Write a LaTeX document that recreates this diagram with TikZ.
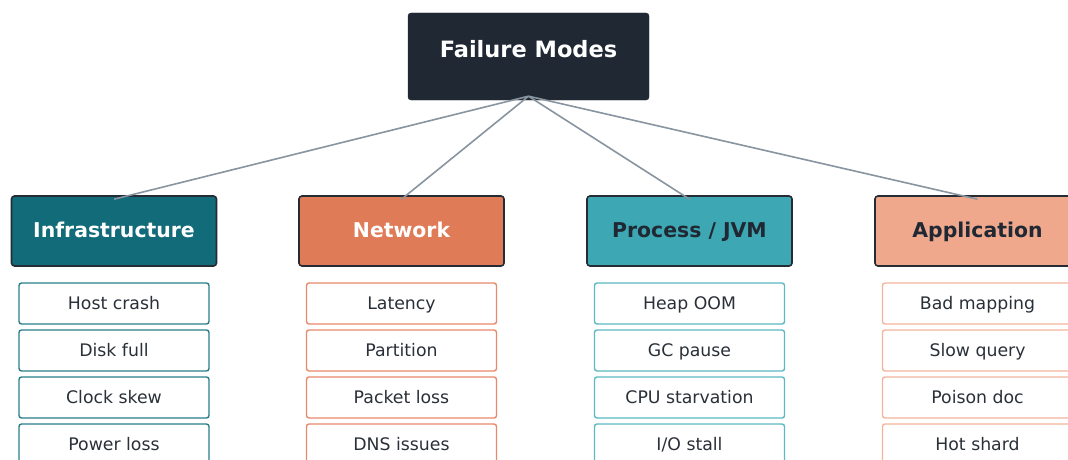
\documentclass[tikz,border=0pt]{standalone}
\usepackage{fontspec}
\setmainfont{DejaVu Sans}
\usetikzlibrary{calc}

\definecolor{rootfill}{HTML}{1F2833}
\definecolor{outline}{HTML}{262C33}
\definecolor{ink}{HTML}{2A3038}
\definecolor{wire}{HTML}{8894A0}
\definecolor{infra}{HTML}{116B78}
\definecolor{net}{HTML}{E07B57}
\definecolor{proc}{HTML}{3DA7B3}
\definecolor{app}{HTML}{F0A88D}
\definecolor{infraline}{HTML}{2A7F8A}
\definecolor{netline}{HTML}{E8896A}
\definecolor{procline}{HTML}{5AB9C3}
\definecolor{appline}{HTML}{F4B49C}

\tikzset{
  rootbox/.style={fill=rootfill, draw=rootfill, rounded corners=3pt,
    minimum width=241pt, minimum height=87pt, text=white,
    text height=16.5pt, text depth=15pt,
    font=\bfseries\fontsize{22.5}{26}\selectfont},
  catbox/.style={draw=outline, line width=1.6pt, rounded corners=3pt,
    minimum width=205pt, minimum height=70pt,
    text height=15pt, text depth=1.5pt,
    font=\bfseries\fontsize{20.4}{24}\selectfont},
  itembox/.style={fill=white, line width=1.4pt, rounded corners=2.5pt,
    minimum width=190pt, minimum height=41pt, text=ink,
    text height=12.5pt, text depth=1.5pt,
    font=\fontsize{17.3}{20}\selectfont},
  wireline/.style={draw=wire, line width=1.6pt}
}

\begin{document}
\begin{tikzpicture}[x=1pt, y=-1pt]
  \useasboundingbox (0,0) rectangle (1068,460);

  % root
  \node[rootbox] (root) at (528.5,56.5) {Failure Modes};

  % categories
  \node[catbox, fill=infra, text=white] (c1) at (114,231) {Infrastructure};
  \node[catbox, fill=net, text=white] (c2) at (401.5,231) {Network};
  \node[catbox, fill=proc, text=rootfill] (c3) at (689.5,231) {Process / JVM};
  \node[catbox, fill=app, text=rootfill] (c4) at (977.5,231) {Application};

  % failure items
  \foreach \t [count=\i] in {Host crash, Disk full, Clock skew, Power loss}
    \node[itembox, draw=infraline] (a\i) at (114, 256.5+47*\i) {\t};
  \foreach \t [count=\i] in {Latency, Partition, Packet loss, DNS issues}
    \node[itembox, draw=netline] (b\i) at (401.5, 256.5+47*\i) {\t};
  \foreach \t [count=\i] in {Heap OOM, GC pause, CPU starvation, I/O stall}
    \node[itembox, draw=procline] (p\i) at (689.5, 256.5+47*\i) {\t};
  \foreach \t [count=\i] in {Bad mapping, Slow query, Poison doc, Hot shard}
    \node[itembox, draw=appline] (q\i) at (977.5, 256.5+47*\i) {\t};

  % connectors
  \foreach \c in {c1,c2,c3,c4}
    \draw[wireline] ($(root.south)+(0,-4)$) -- ($(\c.north)+(0,4)$);
\end{tikzpicture}
\end{document}
